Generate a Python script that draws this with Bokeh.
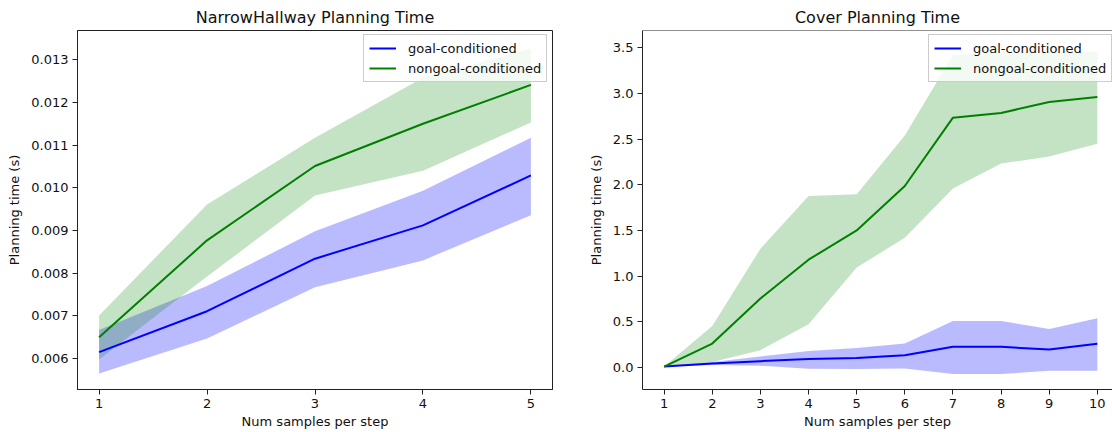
from bokeh.plotting import figure
from bokeh.layouts import row
from bokeh.models import FixedTicker, PrintfTickFormatter, Legend, LegendItem, Span, Range1d
from bokeh.embed import file_html
from bokeh.resources import INLINE

# ---------------- data ----------------
nh_x = [1, 2, 3, 4, 5]
nh_goal_mean = [0.00615, 0.00711, 0.00834, 0.00912, 0.01029]
nh_goal_hi = [0.00667, 0.00770, 0.00898, 0.00993, 0.01117]
nh_goal_lo = [0.00565, 0.00647, 0.00767, 0.00830, 0.00936]
nh_ng_mean = [0.00650, 0.00877, 0.01051, 0.01150, 0.01241]
nh_ng_hi = [0.00701, 0.00961, 0.01117, 0.01258, 0.01326]
nh_ng_lo = [0.00598, 0.00792, 0.00982, 0.01040, 0.01153]
nh_yticks = [0.006, 0.007, 0.008, 0.009, 0.010, 0.011, 0.012, 0.013]

cv_x = [1, 2, 3, 4, 5, 6, 7, 8, 9, 10]
cv_goal_mean = [0.01, 0.044, 0.069, 0.092, 0.105, 0.135, 0.228, 0.226, 0.197, 0.26]
cv_goal_hi = [0.01, 0.06, 0.12, 0.18, 0.213, 0.262, 0.51, 0.51, 0.42, 0.54]
cv_goal_lo = [0.01, 0.027, 0.02, -0.015, -0.017, -0.011, -0.07, -0.072, -0.037, -0.037]
cv_ng_mean = [0.01, 0.262, 0.755, 1.18, 1.50, 1.987, 2.735, 2.786, 2.906, 2.96]
cv_ng_hi = [0.01, 0.455, 1.30, 1.877, 1.896, 2.54, 3.42, 3.45, 3.45, 3.46]
cv_ng_lo = [0.01, 0.06, 0.19, 0.474, 1.094, 1.42, 1.958, 2.232, 2.31, 2.45]
cv_yticks = [0.0, 0.5, 1.0, 1.5, 2.0, 2.5, 3.0, 3.5]

labels = ["goal-conditioned", "nongoal-conditioned"]
titles = ["NarrowHallway Planning Time", "Cover Planning Time"]
x_label = "Num samples per step"
y_label = "Planning time (s)"

FONT = "DejaVu Sans"
TXT = "#111111"
BLUE = "#0000ff"
GREEN = "#008000"


def style(p, xticks, yticks, yfmt):
    p.title.text_font = FONT
    p.title.text_font_size = "16px"
    p.title.text_font_style = "normal"
    p.title.text_color = TXT
    p.title.align = "center"
    p.title.standoff = 7
    p.xgrid.visible = False
    p.ygrid.visible = False
    for ax in (p.xaxis[0], p.yaxis[0]):
        ax.axis_label_text_font = FONT
        ax.axis_label_text_font_size = "13px"
        ax.axis_label_text_font_style = "normal"
        ax.axis_label_text_color = TXT
        ax.major_label_text_font = FONT
        ax.major_label_text_font_size = "13px"
        ax.major_label_text_color = TXT
        ax.axis_line_color = "#222222"
        ax.major_tick_line_color = "#222222"
        ax.major_tick_out = 5
        ax.major_tick_in = 0
        ax.minor_tick_line_color = None
    p.xaxis[0].ticker = FixedTicker(ticks=xticks)
    p.yaxis[0].ticker = FixedTicker(ticks=yticks)
    p.yaxis[0].formatter = PrintfTickFormatter(format=yfmt)
    p.xaxis[0].axis_label = x_label
    p.yaxis[0].axis_label = y_label
    p.xaxis[0].major_label_standoff = 4
    p.xaxis[0].axis_label_standoff = 3
    p.yaxis[0].major_label_standoff = 4
    p.yaxis[0].axis_label_standoff = 6


def draw(p, x, gm, glo, ghi, nm, nlo, nhi, loc):
    p.varea(x=x, y1=glo, y2=ghi, fill_color=BLUE, fill_alpha=0.27)
    p.varea(x=x, y1=nlo, y2=nhi, fill_color=GREEN, fill_alpha=0.23)
    r1 = p.line(x, gm, line_color=BLUE, line_width=2)
    r2 = p.line(x, nm, line_color=GREEN, line_width=2)
    leg = Legend(items=[LegendItem(label=labels[0], renderers=[r1]),
                        LegendItem(label=labels[1], renderers=[r2])],
                 location=loc)
    leg.label_text_font = FONT
    leg.label_text_font_size = "13px"
    leg.label_text_color = TXT
    leg.glyph_width = 27
    leg.glyph_height = 16
    leg.label_height = 16
    leg.label_standoff = 12
    leg.padding = 5
    leg.spacing = 4
    leg.margin = 0
    leg.border_line_color = "#cccccc"
    leg.border_line_alpha = 1.0
    leg.background_fill_alpha = 0.8
    p.add_layout(leg)


p1 = figure(width=568, height=432, title=titles[0],
            x_range=Range1d(0.8, 5.2), y_range=Range1d(0.005276, 0.013685),
            output_backend="svg", toolbar_location=None,
            min_border_left=77, min_border_right=16, min_border_top=30, min_border_bottom=43)
p1.outline_line_color = "#222222"
style(p1, nh_x, nh_yticks, "%.3f")
draw(p1, nh_x, nh_goal_mean, nh_goal_lo, nh_goal_hi, nh_ng_mean, nh_ng_lo, nh_ng_hi, (286, 307))

p2 = figure(width=544, height=432, title=titles[1],
            x_range=Range1d(0.55, 10.315), y_range=Range1d(-0.241, 3.689),
            output_backend="svg", toolbar_location=None,
            min_border_left=74, min_border_right=0, min_border_top=30, min_border_bottom=43)
p2.outline_line_color = None
style(p2, cv_x, cv_yticks, "%.1f")
p2.add_layout(Span(location=3.689, dimension="width", line_color="#222222", line_width=1))
draw(p2, cv_x, cv_goal_mean, cv_goal_lo, cv_goal_hi, cv_ng_mean, cv_ng_lo, cv_ng_hi, (286, 307))

layout = row(p1, p2)
open("out.html", "w").write(file_html(layout, INLINE))
